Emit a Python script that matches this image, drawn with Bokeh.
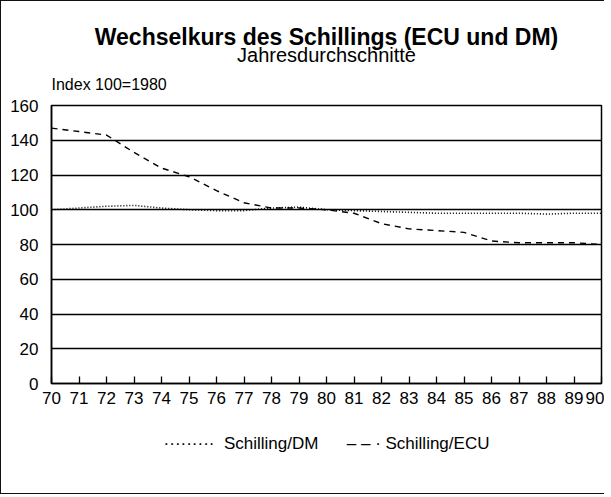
from bokeh.plotting import figure
from bokeh.models import Title, FixedTicker, Range1d
from bokeh.embed import file_html
from bokeh.resources import INLINE

years = list(range(70, 91))
dm = [100, 101, 102, 102.5, 101, 100, 99.5, 99.5, 101, 101.5, 100,
      99.5, 99, 98.5, 98, 98, 98, 98, 97.5, 98, 98]
ecu = [147, 145, 143, 133, 124, 119, 111, 104, 101, 101, 100,
       98, 92, 89, 88, 87, 82, 81, 81, 81, 80]
y_ticks = [0, 20, 40, 60, 80, 100, 120, 140, 160]
x_ticks = years
series_names = ["Schilling/DM", "Schilling/ECU"]

FONT = "Liberation Sans"

p = figure(frame_width=550, frame_height=278, output_backend="svg", toolbar_location=None,
           x_range=Range1d(70, 90), y_range=Range1d(0, 160),
           min_border_left=50, min_border_right=3, min_border_top=104,
           min_border_bottom=110)
p.styles = {"border-left": "1.5px solid #111", "border-top": "1.5px solid #111",
            "border-bottom": "1.5px solid #111"}

p.outline_line_color = "black"
p.outline_line_width = 1.5
p.xgrid.visible = False
p.ygrid.ticker = FixedTicker(ticks=y_ticks)
p.ygrid.grid_line_color = "black"
p.ygrid.grid_line_width = 1.3

p.yaxis.ticker = FixedTicker(ticks=y_ticks)
p.yaxis.major_tick_line_color = None
p.yaxis.minor_tick_line_color = None
p.yaxis.axis_line_color = "black"
p.yaxis.axis_line_width = 1.5
p.yaxis.major_label_text_font = FONT
p.yaxis.major_label_text_font_size = "17px"
p.yaxis.major_label_text_color = "black"
p.yaxis.major_label_standoff = 7

p.xaxis.ticker = FixedTicker(ticks=x_ticks)
p.xaxis.major_tick_in = 7
p.xaxis.major_tick_out = 0
p.xaxis.major_tick_line_color = "black"
p.xaxis.major_tick_line_width = 1.3
p.xaxis.minor_tick_line_color = None
p.xaxis.axis_line_color = "black"
p.xaxis.axis_line_width = 1.5
p.xaxis.major_label_text_font = FONT
p.xaxis.major_label_text_font_size = "17px"
p.xaxis.major_label_text_color = "black"
p.xaxis.major_label_standoff = 8

p.line(years, dm, line_color="black", line_width=1.6, line_dash="1 2")
p.line(years, ecu, line_color="black", line_width=1.4, line_dash="6 5")

# legend line below the axis (typed samples as in the original)
NB = "\u00a0"
legend_text = ("\u00b7\u00b7\u00b7\u00b7\u00b7\u00b7\u00b7\u00b7\u00b7" + NB + NB
               + series_names[0] + NB * 6
               + "\u2013" + NB + "\u2013" + NB + "\u00b7" + NB + series_names[1])
p.add_layout(Title(text=legend_text, align="center", standoff=50,
                   text_font=FONT, text_font_size="17px", text_font_style="normal",
                   text_color="black"), "below")

# titles stack outward from the frame: first added is closest
p.add_layout(Title(text="Index 100=1980", align="left", offset=0, standoff=25,
                   text_font=FONT, text_font_size="16px", text_font_style="normal",
                   text_color="black"), "above")
p.add_layout(Title(text="Jahresdurchschnitte", align="center", standoff=-9,
                   text_font=FONT, text_font_size="20px", text_font_style="normal",
                   text_color="black"), "above")
p.add_layout(Title(text="Wechselkurs des Schillings (ECU und DM)", align="center",
                   standoff=-6, text_font=FONT, text_font_size="23px",
                   text_font_style="bold", text_color="black"), "above")

open("out.html", "w").write(file_html(p, INLINE))
